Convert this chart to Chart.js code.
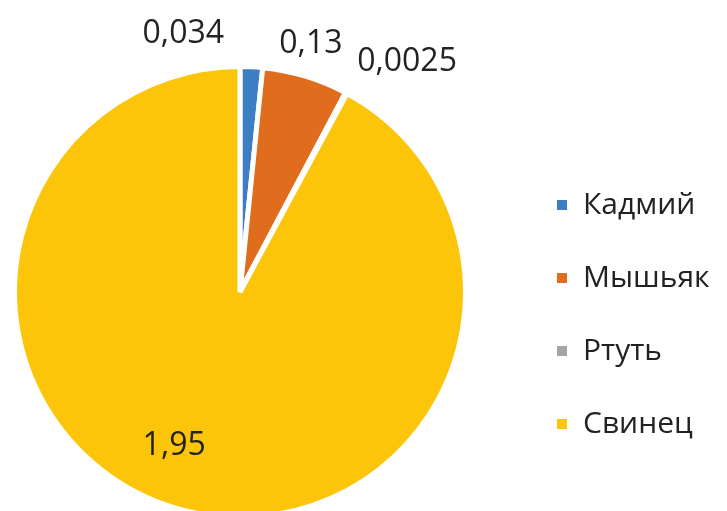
<!DOCTYPE html>
<html>
<head>
<meta charset="utf-8">
<script src="https://cdn.jsdelivr.net/npm/chart.js@4"></script>
<style>
  html, body { margin: 0; padding: 0; background: #fff; overflow: hidden; }
  #wrap { position: relative; width: 727px; height: 530px; }
</style>
</head>
<body>
<div id="wrap"><canvas id="pie"></canvas></div>
<script>
var labels = ['Кадмий', 'Мышьяк', 'Ртуть', 'Свинец'];
var values = [0.034, 0.13, 0.0025, 1.95];
var valueText = ['0,034', '0,13', '0,0025', '1,95'];
var colors = ['#3C7DC4', '#E06C1E', '#A5A5A5', '#FCC50A'];

// label placement, tweaked per slice to mimic the excel "best fit"
var labelPos = [
  { out: 38, dx: -70, dy: 5 },
  { out: 40, dx: -6, dy: 6 },
  { out: 40, dx: 42, dy: 4 },
  { inFrac: 0.74, dx: -25, dy: -8 }
];

var FONT = '"Open Sans", "DejaVu Sans", sans-serif';

var valueLabels = {
  id: 'valueLabels',
  afterDatasetsDraw: function (chart) {
    var ctx = chart.ctx;
    var arcs = chart.getDatasetMeta(0).data;
    ctx.save();
    ctx.font = '32px ' + FONT;
    ctx.fillStyle = '#222';
    ctx.textAlign = 'center';
    ctx.textBaseline = 'middle';
    arcs.forEach(function (arc, i) {
      var p = arc.getProps(['x', 'y', 'startAngle', 'endAngle', 'outerRadius']);
      var mid = (p.startAngle + p.endAngle) / 2;
      var pos = labelPos[i];
      var r = pos.inFrac ? p.outerRadius * pos.inFrac : p.outerRadius + pos.out;
      var x = p.x + Math.cos(mid) * r + pos.dx;
      var y = p.y + Math.sin(mid) * r + pos.dy;
      ctx.fillText(valueText[i], x, y);
    });
    ctx.restore();
  }
};

var sideLegend = {
  id: 'sideLegend',
  afterDraw: function (chart) {
    var ctx = chart.ctx;
    var x0 = 557, y0 = 205, step = 73;
    ctx.save();
    ctx.font = '30px ' + FONT;
    ctx.textBaseline = 'middle';
    ctx.textAlign = 'left';
    chart.data.labels.forEach(function (lab, i) {
      var y = y0 + i * step;
      ctx.fillStyle = chart.data.datasets[0].backgroundColor[i];
      ctx.fillRect(x0, y - 5, 10, 10);
      ctx.fillStyle = '#222';
      ctx.fillText(lab, x0 + 26, y);
    });
    ctx.restore();
  }
};

var piechart = document.getElementById('pie');

var myChart = new Chart(piechart, {
  type: 'pie',
  data: {
    labels: labels,
    datasets: [{
      data: values,
      backgroundColor: colors,
      borderColor: '#ffffff',
      borderWidth: 5
    }]
  },
  options: {
    responsive: true,
    maintainAspectRatio: false,
    animation: false,
    layout: {
      padding: { left: 12, right: 259, top: 64, bottom: 10 }
    },
    plugins: {
      legend: { display: false },
      tooltip: { enabled: false }
    }
  },
  plugins: [valueLabels, sideLegend]
});
</script>
</body>
</html>
